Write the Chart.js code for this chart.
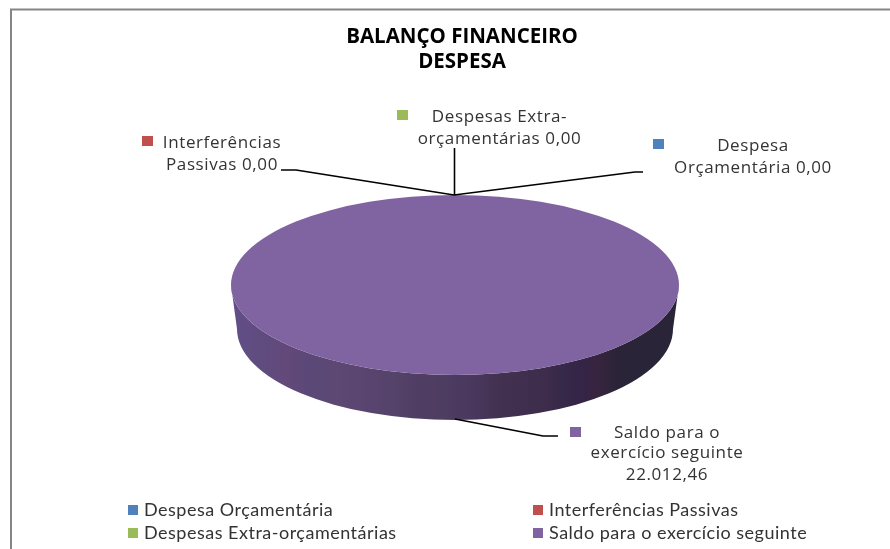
<!DOCTYPE html>
<html><head><meta charset="utf-8">
<style>html,body{margin:0;padding:0;background:#fff}#w{width:890px;height:549px}</style>
<script src="https://cdn.jsdelivr.net/npm/chart.js@4"></script></head>
<body><div id="w"><canvas id="c" width="890" height="549"></canvas></div>
<script>
const categories = ['Despesa Orçamentária','Interferências Passivas','Despesas Extra-orçamentárias','Saldo para o exercício seguinte'];
const values = [0, 0, 0, 22012.46];
const colors = ['#4F81BD','#C0504D','#9BBB59','#8064A2'];
const titleLines = ['BALANÇO FINANCEIRO','DESPESA'];
const fmt = v => v.toLocaleString('pt-BR',{minimumFractionDigits:2,maximumFractionDigits:2});
// callout wording, one entry per category
const calloutText = [
  ['Despesa','Orçamentária '+fmt(values[0])],
  ['Interferências','Passivas '+fmt(values[1])],
  ['Despesas Extra-','orçamentárias '+fmt(values[2])],
  ['Saldo para o','exercício seguinte',fmt(values[3])]
];
// layout of callouts (styling only)
const calloutLayout = [
  {cx:753,ys:[146,168],mark:[653,139],line:[[454,195],[635,172],[643,172]]},
  {cx:222,ys:[143,165],mark:[142,136],line:[[454,195],[296,170],[281,170]]},
  {cx:499.5,ys:[117,139],mark:[397,110],line:[[454.5,195],[454.5,148]]},
  {cx:667,ys:[433,453,475],mark:[570,427],line:[[455,419],[543,436],[558,436]]}
];
const legendLayout = [[128,510],[533,510],[128,533],[533,533]];
const face = {cx:455,cy:285,rx:224,ry:90};
const base = {cx:455,cy:329,rx:218,ry:91};
const sideStops = [[0,'#624f86'],[.06,'#604c80'],[.12,'#62497a'],[.17,'#5c4878'],[.24,'#5c4872'],[.3,'#5a4470'],[.36,'#54436a'],[.42,'#513d64'],[.48,'#4d3d60'],[.54,'#4a375e'],[.6,'#433150'],[.66,'#3f2e4d'],[.7,'#3e2c4b'],[.74,'#372949'],[.78,'#342447'],[.82,'#37243e'],[.86,'#2b2439'],[1,'#2a2438']];

function xform(chart){
  const a = chart.getDatasetMeta(0).data[3];
  const c = chart.ctx;
  c.translate(face.cx, face.cy);
  c.scale(1, face.ry/a.outerRadius);
  c.translate(-a.x, -a.y);
}
const pie3d = {
  id:'pie3d',
  beforeDraw(chart){
    const c = chart.ctx;
    c.save();
    c.fillStyle='#fff'; c.fillRect(0,0,chart.width,chart.height);
    c.strokeStyle='#868686'; c.lineWidth=2;
    c.beginPath(); c.moveTo(11,549); c.lineTo(11,9.5); c.lineTo(890,9.5); c.stroke();
    c.restore();
  },
  beforeDatasetsDraw(chart){
    const c = chart.ctx;
    c.save();
    const g = c.createLinearGradient(face.cx-face.rx,0,face.cx+face.rx,0);
    sideStops.forEach(s=>g.addColorStop(s[0],s[1]));
    c.fillStyle=g;
    c.beginPath();
    c.moveTo(face.cx+face.rx,face.cy);
    c.lineTo(base.cx+base.rx,base.cy);
    c.ellipse(base.cx,base.cy,base.rx,base.ry,0,0,Math.PI);
    c.lineTo(face.cx-face.rx,face.cy);
    c.ellipse(face.cx,face.cy,face.rx,face.ry,0,Math.PI,0,true);
    c.fill();
    c.restore();
    c.save();
    xform(chart);
  },
  afterDatasetsDraw(chart){
    const c = chart.ctx;
    c.restore();
    c.save();
    c.strokeStyle='#000'; c.lineWidth=1.6; c.lineJoin='round';
    calloutLayout.forEach(l=>{
      c.beginPath();
      l.line.forEach((p,i)=> i? c.lineTo(p[0],p[1]) : c.moveTo(p[0],p[1]));
      c.stroke();
    });
    c.textBaseline='middle';
    calloutLayout.forEach((l,i)=>{
      c.fillStyle=colors[i];
      c.fillRect(l.mark[0],l.mark[1],11,10);
      c.fillStyle='#333';
      c.font='17px "Open Sans"';
      c.letterSpacing='0.6px';
      c.textAlign='center';
      calloutText[i].forEach((t,j)=>c.fillText(t,l.cx,l.ys[j]));
    });
    c.textAlign='left';
    c.font='18px Lato';
    c.letterSpacing='0.5px';
    categories.forEach((t,i)=>{
      const p=legendLayout[i];
      c.fillStyle=colors[i];
      c.fillRect(p[0],p[1]-5,10,10);
      c.fillStyle='#333';
      c.fillText(t,p[0]+16,p[1]);
    });
    c.restore();
  }
};
new Chart(document.getElementById('c'),{
  type:'pie',
  data:{labels:categories,datasets:[{data:values,backgroundColor:colors,borderWidth:0,radius:224,clip:false}]},
  options:{
    responsive:false,animation:false,
    layout:{padding:{left:34,top:25}},
    events:[],
    plugins:{
      legend:{display:false},
      tooltip:{enabled:false},
      title:{display:true,fullSize:false,text:titleLines,color:'#000',font:{family:'"Open Sans"',size:20.5,weight:'bold',lineHeight:1.22},padding:0}
    }
  },
  plugins:[pie3d]
});
</script></body></html>
